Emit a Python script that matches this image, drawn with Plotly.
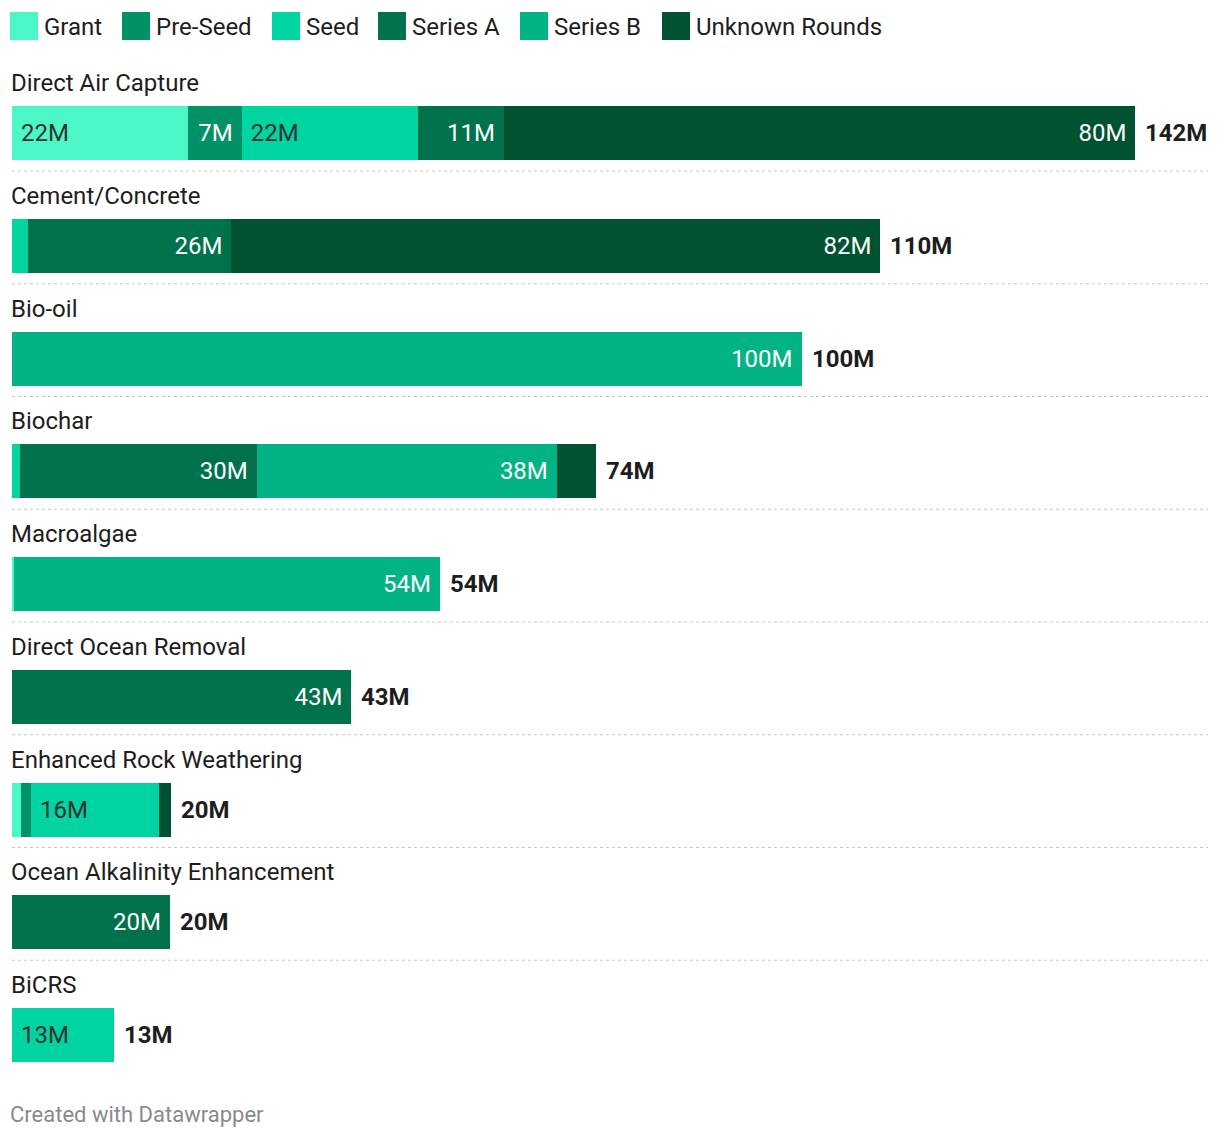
import plotly.graph_objects as go

categories = ["Direct Air Capture", "Cement/Concrete", "Bio-oil", "Biochar", "Macroalgae",
              "Direct Ocean Removal", "Enhanced Rock Weathering",
              "Ocean Alkalinity Enhancement", "BiCRS"]
series_names = ["Grant", "Pre-Seed", "Seed", "Series A", "Series B", "Unknown Rounds"]
grant =    [22.3, 0,    0,   0,    0.2, 0,  1.2,  0,  0]
pre_seed = [6.8,  0,    0,   0,    0,   0,  1.2,  0,  0]
seed =     [22.3, 2.0,  0,   1.0,  0,   0,  16.2, 0,  12.9]
series_a = [10.9, 25.8, 0,   30.0, 0,   43, 0,    20, 0]
series_b = [0,    0,    100, 38.0, 54,  0,  0,    0,  0]
unknown =  [80,   82.2, 0,   5.0,  0,   0,  1.5,  0,  0]
series_values = [grant, pre_seed, seed, series_a, series_b, unknown]

colors = ["#4cf7c7", "#009167", "#00d4a0", "#00724b", "#02b386", "#005230"]
label_colors = ["#333333", "#ffffff", "#333333", "#ffffff", "#ffffff", "#ffffff"]
anchors = ["start", "end", "start", "end", "end", "end"]

FONT = "Roboto, 'Noto Sans', sans-serif"
FS = 24
W, H = 1220, 1138
K = 7.895        # px per million
ROW = 112.75     # px per row
FIRST = 133      # px center of first bar

ys = list(range(len(categories)))
fig = go.Figure()
NB = "\u00a0"
for name, vals, col, lc, anc in zip(series_names, series_values, colors, label_colors, anchors):
    texts = []
    for v in vals:
        if v >= 6:
            t = f"{round(v)}M"
            texts.append(NB + t if anc == "start" else t + NB)
        else:
            texts.append("")
    fig.add_trace(go.Bar(
        name=name, y=ys, x=vals, orientation="h", width=54 / ROW,
        marker=dict(color=col, line=dict(width=0)),
        text=texts, textposition="inside", insidetextanchor=anc, textangle=0,
        textfont=dict(family=FONT, size=FS, color=lc),
        hoverinfo="skip", showlegend=False,
    ))

totals = [sum(s[i] for s in series_values) for i in range(len(categories))]

annotations = []
shapes = []
for i, (cat, tot) in enumerate(zip(categories, totals)):
    annotations.append(dict(x=tot, y=i, xref="x", yref="y", text=f"<b>{round(tot)}M</b>",
                            showarrow=False, xanchor="left", yanchor="middle", xshift=8,
                            font=dict(family=FONT, size=FS, color="#1d1d1d")))
    annotations.append(dict(x=9 / W, y=i - 50 / ROW, xref="paper", yref="y", text=cat,
                            showarrow=False, xanchor="left", yanchor="middle",
                            font=dict(family=FONT, size=FS, color="#1d1d1d")))
    if i < len(categories) - 1:
        shapes.append(dict(type="line", xref="paper", yref="y", x0=12 / W, x1=1208 / W,
                           y0=i + 38 / ROW, y1=i + 38 / ROW,
                           line=dict(color="#c8c8c8", width=1, dash="dot")))

# legend (manual)
legend_x = [10, 122, 272, 378, 520, 662]
for name, col, lx in zip(series_names, colors, legend_x):
    shapes.append(dict(type="rect", xref="paper", yref="paper",
                       x0=lx / W, x1=(lx + 28) / W, y0=1 - 40 / H, y1=1 - 12 / H,
                       fillcolor=col, line=dict(width=0)))
    annotations.append(dict(x=(lx + 32) / W, y=1 - 27 / H, xref="paper", yref="paper",
                            text=name, showarrow=False, xanchor="left", yanchor="middle",
                            font=dict(family=FONT, size=FS, color="#1d1d1d")))

annotations.append(dict(x=8 / W, y=1 - 1114 / H, xref="paper", yref="paper",
                        text="Created with Datawrapper", showarrow=False,
                        xanchor="left", yanchor="middle",
                        font=dict(family=FONT, size=22, color="#8a8a8a")))

rtop = -FIRST / ROW
rbot = rtop + H / ROW
fig.update_layout(
    width=W, height=H, barmode="stack",
    margin=dict(l=0, r=0, t=0, b=0),
    paper_bgcolor="white", plot_bgcolor="white",
    xaxis=dict(range=[-12 / K, (W - 12) / K], visible=False, fixedrange=True),
    yaxis=dict(range=[rbot, rtop], visible=False, fixedrange=True),
    annotations=annotations, shapes=shapes,
    font=dict(family=FONT),
)

fig.write_html("out.html", config={"displayModeBar": False},
               post_script="document.body.style.margin='0';")
